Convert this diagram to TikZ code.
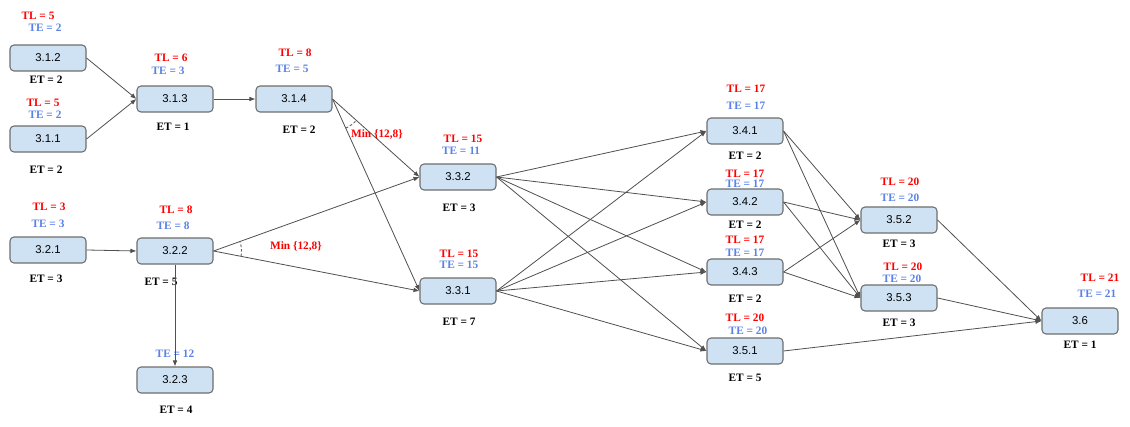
\documentclass[tikz,border=0pt]{standalone}
\usepackage{fontspec}
\setmainfont{Liberation Serif}
\newfontfamily\boxfont{Liberation Sans}
\usetikzlibrary{arrows.meta,angles}

\definecolor{boxfill}{RGB}{207,226,243}
\definecolor{boxline}{RGB}{110,110,110}
\definecolor{teblue}{RGB}{90,130,230}
\definecolor{linkgray}{RGB}{80,80,80}

\tikzset{
  task/.style={draw=boxline, fill=boxfill, rounded corners=3pt, line width=0.8pt,
    minimum width=57pt, minimum height=19.5pt, inner sep=0pt,
    font=\boxfont\fontsize{8.5}{10}\selectfont},
  tl/.style={text=red, font=\bfseries\fontsize{8.5}{10}\selectfont, inner sep=0pt},
  te/.style={text=teblue, font=\bfseries\fontsize{8.5}{10}\selectfont, inner sep=0pt},
  et/.style={text=black, font=\bfseries\fontsize{8.5}{10}\selectfont, inner sep=0pt},
  minlbl/.style={text=red, font=\bfseries\fontsize{8.5}{10}\selectfont, inner sep=0pt},
  link/.style={draw=linkgray, line width=0.6pt, -{Latex[length=4.5pt,width=3.5pt]}},
  minarc/.style={draw=gray!80!black, dash pattern=on 2pt off 1.5pt, line width=0.7pt}
}

\begin{document}
\begin{tikzpicture}[x=0.75pt, y=0.75pt]

  % Canvas
  \fill[white] (0,0) rectangle (1130,-427);
  \useasboundingbox (0,0) rectangle (1130,-427);

  % Tasks 3.1
  \node[task] (n312) at (48,-58) {3.1.2};
  \node[tl] (tl312) at (38,-16) {TL = 5};
  \node[te] (te312) at (45,-28) {TE = 2};
  \node[et] (et312) at (46,-80) {ET = 2};

  \node[task] (n311) at (48,-139) {3.1.1};
  \node[tl] (tl311) at (43,-103) {TL = 5};
  \node[te] (te311) at (45,-115) {TE = 2};
  \node[et] (et311) at (46,-170) {ET = 2};

  \node[task] (n313) at (175,-99) {3.1.3};
  \node[tl] (tl313) at (171,-58) {TL = 6};
  \node[te] (te313) at (168,-71) {TE = 3};
  \node[et] (et313) at (173,-127) {ET = 1};

  \node[task] (n314) at (294,-99) {3.1.4};
  \node[tl] (tl314) at (295,-53) {TL = 8};
  \node[te] (te314) at (292,-69) {TE = 5};
  \node[et] (et314) at (299,-130) {ET = 2};

  % Tasks 3.2
  \node[task] (n321) at (48,-250) {3.2.1};
  \node[tl] (tl321) at (49,-207) {TL = 3};
  \node[te] (te321) at (48,-224) {TE = 3};
  \node[et] (et321) at (46,-279) {ET = 3};

  \node[task] (n322) at (175,-251) {3.2.2};
  \node[tl] (tl322) at (176,-210) {TL = 8};
  \node[te] (te322) at (173,-226) {TE = 8};
  \node[et] (et322) at (161,-282) {ET = 5};

  \node[task] (n323) at (175,-380) {3.2.3};
  \node[te] (te323) at (175,-354) {TE = 12};
  \node[et] (et323) at (176,-410) {ET = 4};

  % Tasks 3.3
  \node[task] (n332) at (458,-177) {3.3.2};
  \node[tl] (tl332) at (463,-139) {TL = 15};
  \node[te] (te332) at (461,-151) {TE = 11};
  \node[et] (et332) at (459,-208) {ET = 3};

  \node[task] (n331) at (458,-291) {3.3.1};
  \node[tl] (tl331) at (459,-254) {TL = 15};
  \node[te] (te331) at (459,-265) {TE = 15};
  \node[et] (et331) at (459,-322) {ET = 7};

  % Tasks 3.4
  \node[task] (n341) at (745,-131) {3.4.1};
  \node[tl] (tl341) at (746,-89) {TL = 17};
  \node[te] (te341) at (746,-106) {TE = 17};
  \node[et] (et341) at (745,-156) {ET = 2};

  \node[task] (n342) at (745,-202) {3.4.2};
  \node[tl] (tl342) at (745,-174) {TL = 17};
  \node[te] (te342) at (745,-184) {TE = 17};
  \node[et] (et342) at (745,-225) {ET = 2};

  \node[task] (n343) at (745,-272) {3.4.3};
  \node[tl] (tl343) at (745,-240) {TL = 17};
  \node[te] (te343) at (745,-253) {TE = 17};
  \node[et] (et343) at (745,-299) {ET = 2};

  % Tasks 3.5
  \node[task] (n351) at (745,-351) {3.5.1};
  \node[tl] (tl351) at (745,-318) {TL = 20};
  \node[te] (te351) at (748,-331) {TE = 20};
  \node[et] (et351) at (745,-378) {ET = 5};

  \node[task] (n352) at (899,-220) {3.5.2};
  \node[tl] (tl352) at (900,-182) {TL = 20};
  \node[te] (te352) at (900,-198) {TE = 20};
  \node[et] (et352) at (899,-244) {ET = 3};

  \node[task] (n353) at (899,-298) {3.5.3};
  \node[tl] (tl353) at (903,-267) {TL = 20};
  \node[te] (te353) at (902,-279) {TE = 20};
  \node[et] (et353) at (899,-323) {ET = 3};

  % Task 3.6
  \node[task] (n36) at (1080,-321) {3.6};
  \node[tl] (tl36) at (1100,-278) {TL = 21};
  \node[te] (te36) at (1097,-294) {TE = 21};
  \node[et] (et36) at (1080,-345) {ET = 1};

  % Links
  \draw[link] (n312.east) -- (n313.west);
  \draw[link] (n311.east) -- (n313.west);
  \draw[link] (n313.east) -- (n314.west);
  \draw[link] (n314.east) -- (n332.west);
  \draw[link] (n314.east) -- (n331.west);
  \draw[link] (n321.east) -- (n322.west);
  \draw[link] (n322.east) -- (n332.west);
  \draw[link] (n322.east) -- (n331.west);
  \draw[link] (n322.south) -- (n323.north);

  \foreach \src in {n332, n331} {
    \foreach \dst in {n341, n342, n343, n351}
      \draw[link] (\src.east) -- (\dst.west);
  }
  \foreach \src in {n341, n342, n343} {
    \foreach \dst in {n352, n353}
      \draw[link] (\src.east) -- (\dst.west);
  }
  \draw[link] (n352.east) -- (n36.west);
  \draw[link] (n353.east) -- (n36.west);
  \draw[link] (n351.east) -- (n36.west);

  % Min angles
  \coordinate (e314) at (n314.east);
  \coordinate (e322) at (n322.east);
  \coordinate (w332) at (n332.west);
  \coordinate (w331) at (n331.west);
  \path pic[minarc, angle radius=24pt] {angle = w331--e314--w332};
  \path pic[minarc, angle radius=21pt] {angle = w331--e322--w332};
  \node[minlbl] (min314) at (377,-134) {Min \{12,8\}};
  \node[minlbl] (min322) at (296,-246) {Min \{12,8\}};

\end{tikzpicture}
\end{document}
